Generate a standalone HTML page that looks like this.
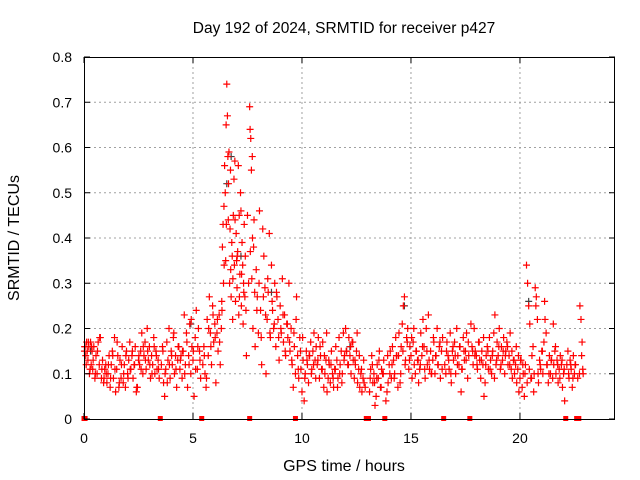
<!DOCTYPE html>
<html><head><meta charset="utf-8"><style>
body{margin:0;background:#fff;}
svg{display:block;font-family:"Liberation Sans",sans-serif;}
</style></head><body>
<svg id="chart" width="640" height="480" viewBox="0 0 640 480" xmlns="http://www.w3.org/2000/svg">
<rect width="640" height="480" fill="#fff"/>
<text x="344" y="33" font-size="15.5" text-anchor="middle" fill="#000">Day 192 of 2024, SRMTID for receiver p427</text>
<text x="344" y="471" font-size="16" text-anchor="middle" fill="#000">GPS time / hours</text>
<text transform="translate(19,238) rotate(-90)" font-size="16" text-anchor="middle" fill="#000">SRMTID / TECUs</text>
<g id="grid"></g>
<g id="marks"></g>
<g id="axes"></g>
</svg>
<script>
const xTicks=[0,5,10,15,20];
const yTicks=[0,0.1,0.2,0.3,0.4,0.5,0.6,0.7,0.8];
const yTickLabels=["0","0.1","0.2","0.3","0.4","0.5","0.6","0.7","0.8"];
const times=[0.02,.05,.08,.12,.15,.18,.22,.25,.3,.33,.37,.4,.45,.5,.55,.6,.65,.7,.75,.8,.85,.9,.95,1.0,1.05,1.1,1.15,1.2,1.25,1.3,1.35,1.4,1.45,1.5,1.55,1.6,1.65,1.7,1.75,1.8,1.85,1.9,1.95,2.0,2.05,2.1,2.15,2.2,2.25,2.3,2.35,2.4,2.45,2.5,
2.55,2.6,2.65,2.7,2.75,2.8,2.85,2.9,2.95,3.0,3.05,3.1,3.15,3.2,3.25,3.3,3.35,3.4,3.45,3.55,3.6,3.65,3.7,3.75,3.8,3.85,3.9,3.95,4.0,4.05,4.1,4.15,4.2,4.25,4.3,4.35,4.4,4.45,
4.5,4.55,4.6,4.65,4.7,4.75,4.8,4.85,4.9,4.95,5.0,5.05,5.1,5.15,5.2,5.25,5.3,5.35,5.45,5.5,5.55,5.6,5.65,5.7,5.75,5.8,5.85,5.9,5.95,6.0,6.05,6.1,6.15,6.2,6.25,
6.3,6.32,6.35,6.38,6.4,6.42,6.45,6.48,6.5,6.52,6.55,6.58,6.6,6.62,6.65,6.68,6.7,6.72,6.75,6.78,6.8,6.82,6.85,6.88,6.9,6.92,6.95,6.98,7.0,7.02,7.05,7.08,7.1,7.12,7.15,7.18,7.2,7.22,7.25,7.28,7.3,7.32,7.35,7.38,7.4,7.45,
7.5,7.55,7.6,7.62,7.65,7.68,7.7,7.72,7.75,7.78,7.8,7.85,7.9,7.95,8.0,8.05,8.1,8.15,8.2,8.25,8.3,8.35,8.4,8.45,8.5,8.55,8.6,8.65,8.7,8.75,8.8,8.85,8.9,8.95,9.0,9.05,9.1,9.15,9.2,9.25,9.3,9.35,9.4,9.45,
9.5,9.55,9.6,9.65,9.7,9.75,9.8,9.85,9.9,9.95,10.0,10.05,10.1,10.15,10.2,10.25,10.3,10.35,10.4,10.45,10.5,10.55,10.6,10.65,10.7,10.75,10.8,10.85,10.9,10.95,11.0,11.05,11.1,11.15,11.2,11.25,11.3,11.35,11.4,11.45,11.5,11.55,11.6,11.65,11.7,11.75,11.8,11.85,11.9,11.95,
12.0,12.05,12.1,12.15,12.2,12.25,12.3,12.35,12.4,12.45,12.5,12.55,12.6,12.65,12.7,12.75,12.8,12.85,12.9,13.1,13.15,13.2,13.25,13.3,13.35,13.4,13.45,13.5,13.55,13.6,13.65,13.7,13.75,13.85,13.9,13.95,
14.0,14.05,14.1,14.15,14.2,14.25,14.3,14.35,14.4,14.45,14.5,14.55,14.6,14.65,14.7,14.75,14.8,14.85,14.9,14.95,15.0,15.05,15.1,15.15,15.2,15.25,15.3,15.35,15.4,15.45,15.5,15.55,15.6,15.65,15.7,15.75,15.8,15.85,15.9,15.95,
16.0,16.05,16.1,16.15,16.2,16.25,16.3,16.35,16.4,16.45,16.55,16.6,16.65,16.7,16.75,16.8,16.85,16.9,16.95,17.0,17.05,17.1,17.15,17.2,17.25,17.3,17.35,17.4,17.45,17.5,17.55,17.6,17.65,17.75,17.8,17.85,17.9,17.95,
18.0,18.05,18.1,18.15,18.2,18.25,18.3,18.35,18.4,18.45,18.5,18.55,18.6,18.65,18.7,18.75,18.8,18.85,18.9,18.95,19.0,19.05,19.1,19.15,19.2,19.25,19.3,19.35,19.4,19.45,19.5,19.55,19.6,19.65,19.7,19.75,19.8,19.85,19.9,19.95,
20.0,20.05,20.1,20.15,20.2,20.25,20.3,20.35,20.4,20.45,20.5,20.55,20.6,20.65,20.7,20.75,20.8,20.85,20.9,20.95,
21.0,21.05,21.1,21.15,21.2,21.25,21.3,21.35,21.4,21.45,21.5,21.55,21.6,21.65,21.7,21.75,21.8,21.85,21.9,21.95,22.0,22.05,22.15,22.2,22.25,22.3,22.35,22.4,22.45,22.5,22.55,22.65,22.75,22.8,22.85,22.9];
const values=[.15,.16,.14,.17,.15,.13,.16,.1,.17,.12,.15,.11,.16,.09,.14,.1,.17,.12,.18,.09,.13,.08,.11,.12,.08,.1,.14,.07,.12,.15,.09,.18,.06,.11,.14,.07,.13,.09,.16,.08,.12,.07,.15,.1,.13,.17,.11,.14,.09,.12,.16,.06,.07,.13,
.12,.15,.19,.1,.14,.17,.11,.2,.13,.16,.09,.14,.12,.18,.1,.15,.11,.13,.09,.12,.16,.08,.05,.11,.17,.13,.2,.09,.15,.12,.18,.1,.14,.07,.13,.16,.11,.14,
.09,.15,.23,.12,.19,.07,.14,.21,.1,.16,.13,.05,.18,.24,.11,.2,.15,.09,.12,.16,.1,.07,.22,.14,.27,.19,.12,.25,.17,.21,.08,.19,.15,.23,.12,
.2,.26,.38,.43,.3,.47,.56,.5,.35,.65,.74,.67,.58,.44,.59,.3,.42,.55,.27,.39,.36,.22,.45,.53,.34,.57,.26,.41,.35,.29,.37,.56,.23,.45,.32,.5,.46,.25,.39,.34,.21,.3,.43,.27,.36,.14,
.45,.3,.69,.64,.62,.55,.31,.58,.2,.38,.44,.16,.33,.27,.19,.46,.24,.12,.42,.36,.29,.1,.22,.28,.41,.18,.34,.24,.2,.3,.16,.27,.22,.13,.25,.19,.31,.17,.23,.14,.21,.18,.3,.15,
.2,.12,.07,.16,.1,.27,.14,.09,.18,.11,.06,.13,.04,.1,.15,.12,.08,.14,.17,.11,.15,.19,.13,.16,.12,.18,.09,.14,.11,.17,.07,.1,.13,.06,.09,.12,.08,.15,.1,.07,.11,.16,.13,.09,.18,.12,.15,.1,.19,.14,
.2,.15,.12,.18,.14,.1,.17,.13,.09,.12,.15,.08,.11,.07,.1,.06,.09,.08,.07,.06,.11,.14,.08,.1,.03,.05,.12,.09,.15,.07,.11,.1,.13,.04,.06,.08,
.12,.15,.09,.16,.13,.1,.18,.14,.07,.19,.08,.16,.21,.25,.27,.13,.18,.2,.11,.16,.14,.09,.17,.12,.1,.15,.13,.08,.11,.19,.14,.22,.16,.09,.2,.12,.23,.11,.15,.1,
.13,.17,.1,.14,.2,.12,.16,.09,.15,.18,.12,.1,.17,.14,.11,.19,.08,.15,.13,.17,.1,.2,.14,.12,.16,.06,.11,.18,.13,.15,.19,.09,.14,.21,.16,.12,.2,.15,
.14,.11,.17,.13,.09,.15,.12,.05,.08,.14,.16,.11,.18,.13,.1,.15,.19,.23,.12,.17,.14,.2,.11,.16,.13,.18,.1,.15,.17,.12,.14,.19,.11,.09,.13,.1,.12,.08,.11,.06,
.09,.13,.07,.1,.05,.12,.34,.3,.25,.21,.09,.14,.16,.1,.29,.27,.22,.08,.13,.11,
.15,.1,.17,.22,.19,.12,.08,.14,.1,.13,.09,.12,.15,.1,.13,.08,.11,.14,.12,.07,.1,.04,.12,.15,.09,.13,.11,.07,.14,.1,.12,.09,.25,.22,.17,.1];
const times2=[0.03,.1,.2,.28,.35,.42,.52,.62,.72,.82,.92,1.02,1.12,1.22,1.32,1.42,1.52,1.62,1.72,1.82,1.92,2.02,2.12,2.22,2.32,2.42,2.52,2.62,2.72,2.82,2.92,3.02,3.12,3.22,3.32,3.42,3.62,3.72,3.82,3.92,4.02,4.12,4.22,4.32,4.42,4.52,4.62,4.72,4.82,4.92,5.02,5.12,5.22,5.32,5.52,5.62,5.72,5.82,5.92,6.02,6.12,6.22,
6.33,6.43,6.53,6.63,6.73,6.83,6.93,7.03,7.13,7.23,7.33,7.43,7.63,7.73,7.83,7.93,8.03,8.13,8.23,8.33,8.43,8.53,8.63,8.73,8.83,8.93,9.03,9.13,9.23,9.33,9.43,9.53,9.63,9.73,9.83,9.93,
10.03,10.13,10.23,10.33,10.43,10.53,10.63,10.73,10.83,10.93,11.03,11.13,11.23,11.33,11.43,11.53,11.63,11.73,11.83,11.93,12.03,12.13,12.23,12.33,12.43,12.53,12.63,12.73,12.83,13.13,13.23,13.33,13.43,13.53,13.63,13.73,13.93,
14.03,14.13,14.23,14.33,14.43,14.53,14.63,14.73,14.83,14.93,15.03,15.13,15.23,15.33,15.43,15.53,15.63,15.73,15.83,15.93,16.03,16.13,16.23,16.33,16.43,16.63,16.73,16.83,16.93,17.03,17.13,17.23,17.33,17.43,17.53,17.63,17.83,17.93,
18.03,18.13,18.23,18.33,18.43,18.53,18.63,18.73,18.83,18.93,19.03,19.13,19.23,19.33,19.43,19.53,19.63,19.73,19.83,19.93,20.03,20.13,20.23,20.33,20.43,20.53,20.63,20.73,20.83,20.93,21.03,21.13,21.23,21.33,21.43,21.53,21.63,21.73,21.83,21.93,22.03,22.23,22.33,22.43,22.53,22.73,22.83,22.88];
const values2=[.16,.12,.17,.11,.16,.13,.1,.15,.18,.11,.09,.1,.12,.09,.14,.11,.17,.08,.12,.1,.14,.09,.11,.15,.12,.07,.14,.11,.16,.13,.15,.12,.1,.16,.14,.11,.15,.1,.08,.12,.14,.19,.11,.16,.13,.15,.1,.17,.12,.22,.15,.11,.16,.13,.14,.09,.2,.16,.23,.18,.22,.17,
.24,.34,.43,.52,.33,.31,.44,.36,.27,.32,.28,.24,.37,.4,.28,.24,.3,.18,.27,.23,.31,.19,.26,.21,.28,.18,.2,.23,.15,.21,.17,.13,.19,.22,.11,.15,.18,.09,.13,
.14,.1,.12,.09,.13,.16,.11,.14,.19,.13,.12,.09,.11,.07,.1,.08,.13,.15,.12,.16,.17,.13,.19,.14,.11,.13,.09,.12,.08,.09,.13,.07,.1,.14,.1,.12,.09,.14,
.14,.1,.15,.12,.17,.13,.18,.2,.15,.13,.12,.16,.11,.15,.13,.1,.18,.14,.12,.17,.11,.15,.13,.1,.16,.14,.12,.16,.11,.15,.13,.17,.15,.14,.12,.17,.13,.18,
.12,.15,.11,.14,.09,.13,.16,.12,.15,.14,.16,.12,.15,.13,.16,.14,.13,.12,.1,.08,.11,.09,.06,.25,.1,.12,.15,.26,.12,.1,.13,.21,.16,.12,.09,.13,.11,.1,.12,.09,.12,.1,.14,.11,.13,.14,.12,.2];
const zeroTimes=[0,0.05,3.5,5.4,7.6,9.7,12.95,13.05,13.8,16.5,17.7,22.1,22.6,22.7];
const grayTimes=[0.3,4.9,6.55,6.75,7.2,8.6,12.2,14.7,20.4];
const grayValues=[.15,.21,.52,.58,.36,.28,.16,.25,.26];

const L=84,R=615,T=57,B=419,XMAX=24.36,YMAX=0.8;
const xs=v=>L+(R-L)*v/XMAX;
const ys=v=>B-(B-T)*v/YMAX;
const NS="http://www.w3.org/2000/svg";
function mk(tag,parent,attrs){const e=document.createElementNS(NS,tag);for(const k in attrs)e.setAttribute(k,attrs[k]);parent.appendChild(e);return e;}
const grid=document.getElementById('grid'),marks=document.getElementById('marks'),axes=document.getElementById('axes');
yTicks.forEach((t,i)=>{
  const y=ys(t);
  if(t>0&&t<YMAX){const g=mk('line',grid,{x1:L,x2:R,y1:y,y2:y,stroke:'#a0a0a0','stroke-width':1,'stroke-dasharray':'2,3'});
  
  }
  mk('line',axes,{x1:L,x2:L+6,y1:y,y2:y,stroke:'#000'});
  mk('line',axes,{x1:R-6,x2:R,y1:y,y2:y,stroke:'#000'});
  const tx=mk('text',axes,{x:72,y:y+5,'font-size':14,'text-anchor':'end',fill:'#000'});
  tx.textContent=yTickLabels[i];
  
  
});
xTicks.forEach(t=>{
  const x=xs(t);
  if(t>0){const g=mk('line',grid,{x1:x,x2:x,y1:T,y2:B,stroke:'#a0a0a0','stroke-width':1,'stroke-dasharray':'2,3'});
  
  }
  mk('line',axes,{x1:x,x2:x,y1:B,y2:B-6,stroke:'#000'});
  mk('line',axes,{x1:x,x2:x,y1:T,y2:T+6,stroke:'#000'});
  const tx=mk('text',axes,{x:x,y:443,'font-size':14,'text-anchor':'middle',fill:'#000'});
  tx.textContent=String(t);
  
  
});
const frame=mk('rect',axes,{x:L+0.5,y:T+0.5,width:R-L-1,height:B-T,fill:'none',stroke:'#000','stroke-width':1});


function plus(x,y,c){
  const p=mk('path',marks,{d:`M${x-3.5},${y}h7M${x},${y-3.5}v7`,stroke:c,'stroke-width':1.2,fill:'none'});
  
  
}
grayTimes.forEach((t,i)=>plus(xs(t),ys(grayValues[i]),'#404040'));
times.forEach((t,i)=>plus(xs(t),ys(values[i]),'#ff0000'));
times2.forEach((t,i)=>plus(xs(t),ys(values2[i]),'#ff0000'));
zeroTimes.forEach(t=>{
  const r=mk('rect',marks,{x:xs(t)-2.5,y:B-3,width:5,height:5,fill:'#ff0000'});
  
  
});
</script>
</body></html>
